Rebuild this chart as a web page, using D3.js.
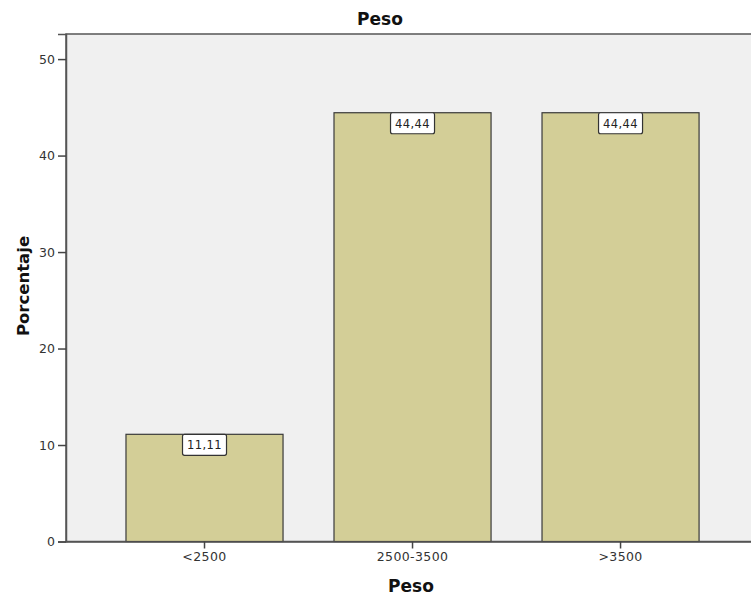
<!DOCTYPE html>
<html>
<head>
<meta charset="utf-8">
<script src="https://cdn.jsdelivr.net/npm/d3@7"></script>
<style>
  html, body { margin: 0; padding: 0; background: #fff; }
  svg { display: block; font-family: "DejaVu Sans", "Open Sans", sans-serif; }
</style>
</head>
<body>
<svg id="chart" width="751" height="597"></svg>
<script>
// Distribución de pesos al nacer (porcentaje por categoría)
const categories = ["<2500", "2500-3500", ">3500"];
const percentages = [11.11, 44.44, 44.44];
const valueLabels = ["11,11", "44,44", "44,44"];
const yTicks = [0, 10, 20, 30, 40, 50];

const svg = d3.select("#chart");
const plot = { left: 66, top: 34, right: 752, bottom: 541.5 };

const x = d3.scaleBand()
  .domain(categories)
  .range([plot.left, 751])
  .paddingInner(0.245)
  .paddingOuter(0.269)
  .align(0.536);

const y = d3.scaleLinear()
  .domain([0, 52.6])
  .range([plot.bottom, plot.top]);

// Plot background with frame
svg.append("rect")
  .attr("x", plot.left).attr("y", plot.top)
  .attr("width", plot.right - plot.left).attr("height", plot.bottom - plot.top)
  .attr("fill", "#f0f0f0")
  .attr("stroke", "#555").attr("stroke-width", 1.5);

// Bars
svg.append("g").selectAll("rect")
  .data(categories)
  .join("rect")
  .attr("x", d => x(d))
  .attr("y", (d, i) => y(percentages[i]))
  .attr("width", x.bandwidth())
  .attr("height", (d, i) => y(0) - y(percentages[i]))
  .attr("fill", "#d3ce97")
  .attr("stroke", "#3a3a3a")
  .attr("stroke-width", 1.2);

// Value labels inside boxes at bar tops
const lab = svg.append("g").selectAll("g")
  .data(categories)
  .join("g")
  .attr("transform", (d, i) => `translate(${x(d) + x.bandwidth() / 2},${y(percentages[i])})`);
lab.append("rect")
  .attr("x", -22).attr("y", 0)
  .attr("width", 44).attr("height", 21)
  .attr("rx", 2)
  .attr("fill", "#fff")
  .attr("stroke", "#333").attr("stroke-width", 1.2);
lab.append("text")
  .attr("x", 0).attr("y", 15)
  .attr("text-anchor", "middle")
  .attr("font-size", 11.5)
  .attr("letter-spacing", 0.4)
  .attr("fill", "#222")
  .text((d, i) => valueLabels[i]);

// Y axis
const yAxis = svg.append("g")
  .attr("transform", `translate(${plot.left},0)`)
  .call(d3.axisLeft(y).tickValues(yTicks).tickSize(8).tickPadding(3).tickFormat(d3.format("d")));
yAxis.select(".domain").attr("stroke", "#555").attr("stroke-width", 1.5);
yAxis.selectAll(".tick line").attr("stroke", "#444").attr("stroke-width", 1.5);
yAxis.selectAll(".tick text").attr("font-size", 12.5).attr("fill", "#333")
  .attr("font-family", "'DejaVu Sans', sans-serif");

// X axis
const xAxis = svg.append("g")
  .attr("transform", `translate(0,${plot.bottom})`)
  .call(d3.axisBottom(x).tickSize(7).tickPadding(4).tickSizeOuter(0));
xAxis.select(".domain").attr("stroke", "#555").attr("stroke-width", 1.5);
xAxis.selectAll(".tick line").attr("stroke", "#444").attr("stroke-width", 1.5);
xAxis.selectAll(".tick text").attr("font-size", 12.5).attr("fill", "#333")
  .attr("letter-spacing", 0.4)
  .attr("font-family", "'DejaVu Sans', sans-serif");

// Title
svg.append("text")
  .attr("x", 380).attr("y", 25)
  .attr("text-anchor", "middle")
  .attr("font-size", 17).attr("font-weight", "bold").attr("fill", "#111")
  .text("Peso");

// X axis title
svg.append("text")
  .attr("x", 411).attr("y", 592)
  .attr("text-anchor", "middle")
  .attr("font-size", 17).attr("font-weight", "bold").attr("fill", "#111")
  .text("Peso");

// Y axis title
svg.append("text")
  .attr("transform", "translate(29,286) rotate(-90)")
  .attr("text-anchor", "middle")
  .attr("font-size", 16.5).attr("font-weight", "bold").attr("fill", "#111")
  .text("Porcentaje");
</script>
</body>
</html>
